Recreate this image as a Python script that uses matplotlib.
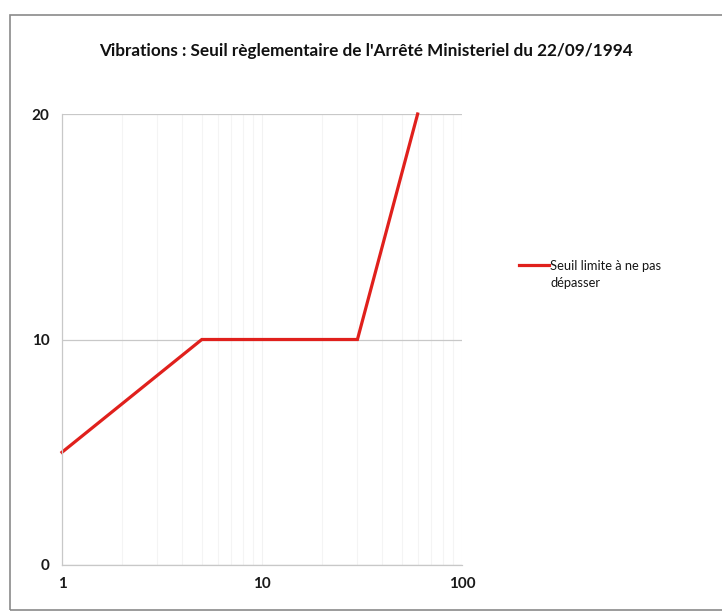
import matplotlib
matplotlib.use("Agg")
import matplotlib.pyplot as plt
from matplotlib.patches import Rectangle
from matplotlib.ticker import LogLocator, FixedLocator, NullFormatter

plt.rcParams['font.family'] = ['Lato', 'DejaVu Sans']

# Data
frequency_hz = [1, 5, 30, 60]
threshold = [5, 10, 10, 20]
series_label = "Seuil limite à ne pas\ndépasser"
title = "Vibrations : Seuil règlementaire de l'Arrêté Ministeriel du 22/09/1994"
x_ticks = [1, 10, 100]
x_tick_labels = ["1", "10", "100"]
y_ticks = [0, 10, 20]
y_tick_labels = ["0", "10", "20"]

W, H = 722, 612
fig = plt.figure(figsize=(W / 100, H / 100), dpi=100)
fig.patch.set_facecolor("white")

# Chart-area border (left & top visible, as in the scan)
fig.add_artist(Rectangle((10 / W, 1 - 610 / H), (W + 5 - 10) / W, (610 - 15) / H,
                         transform=fig.transFigure, fill=False,
                         edgecolor="#8a8a8a", linewidth=1.2))

ax = fig.add_axes([62 / W, 1 - 565 / H, 400 / W, (565 - 114) / H])
ax.set_xscale("log")
ax.set_xlim(1, 100)
ax.set_ylim(0, 20)

ax.plot(frequency_hz, threshold, color="#e0201c", linewidth=2.3,
        solid_joinstyle="miter", label=series_label, clip_on=False)

ax.xaxis.set_major_locator(FixedLocator(x_ticks))
ax.set_xticklabels(x_tick_labels)
ax.xaxis.set_minor_locator(LogLocator(base=10, subs=range(2, 10)))
ax.xaxis.set_minor_formatter(NullFormatter())
ax.set_yticks(y_ticks)
ax.set_yticklabels(y_tick_labels)

ax.grid(axis="y", which="major", color="#c8c8c8", linewidth=0.9)
ax.grid(axis="x", which="minor", color="#f4f4f4", linewidth=0.8)
ax.grid(axis="x", which="major", color="#f2f2f2", linewidth=0.8)
ax.set_axisbelow(True)

for s in ["top", "right"]:
    ax.spines[s].set_visible(False)
for s in ["left", "bottom"]:
    ax.spines[s].set_color("#c8c8c8")
    ax.spines[s].set_linewidth(0.9)

ax.tick_params(axis="both", which="both", length=0)
ax.tick_params(axis="y", pad=9, labelsize=11)
ax.tick_params(axis="x", pad=9, labelsize=11)
for lbl in ax.get_yticklabels() + ax.get_xticklabels():
    lbl.set_fontweight("bold")
    lbl.set_color("#1a1a1a")

fig.text(366 / W, 1 - 51 / H, title, ha="center", va="center",
         fontsize=12.3, fontweight="bold", color="#111111")

leg = fig.legend(loc="upper left", bbox_to_anchor=(514 / W, 1 - 255 / H),
                 frameon=False, fontsize=9.3, handlelength=2.3,
                 handletextpad=0.12, borderaxespad=0)
for t in leg.get_texts():
    t.set_color("#151515")
    t.set_linespacing(1.5)
# align the line handle with the first text line
for col in leg._legend_handle_box.get_children():
    for hp in col.get_children():
        hp.align = "top"

fig.savefig("out.png", dpi=100, facecolor="white")
